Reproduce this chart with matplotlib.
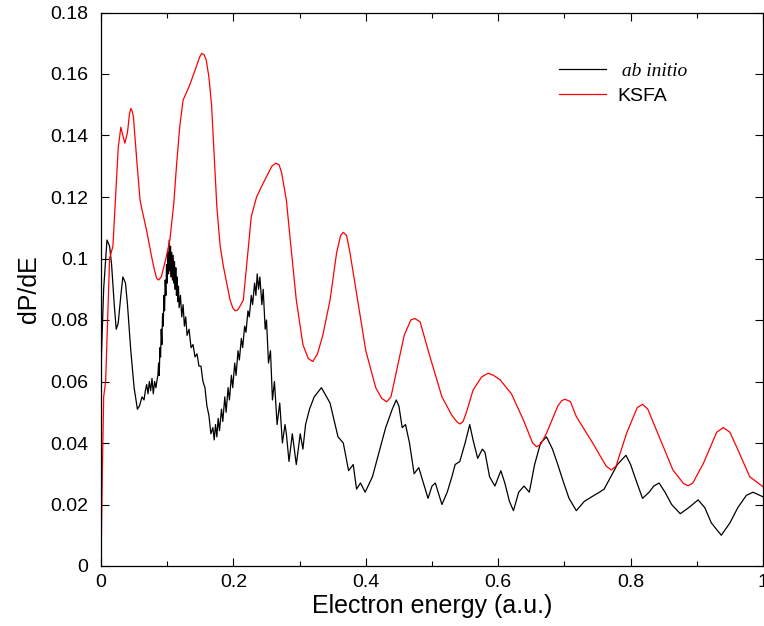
import matplotlib
matplotlib.use('Agg')
import matplotlib.pyplot as plt
from matplotlib.ticker import MultipleLocator, FuncFormatter

# ab initio spectrum (energy in a.u., dP/dE)
e_abinitio = [0.000, 0.004, 0.009, 0.013, 0.016, 0.020, 0.023, 0.026, 0.030, 0.033,
              0.037, 0.040, 0.045, 0.050, 0.055, 0.058, 0.062, 0.065, 0.067, 0.069,
              0.071, 0.073, 0.075, 0.077, 0.079, 0.081, 0.083, 0.085, 0.086, 0.087,
              0.088, 0.089, 0.090, 0.091, 0.092, 0.093, 0.094, 0.095, 0.096, 0.097,
              0.098, 0.099, 0.100, 0.101, 0.102, 0.103, 0.104, 0.105, 0.106, 0.107,
              0.108, 0.109, 0.110, 0.111, 0.112, 0.113, 0.114, 0.115, 0.116, 0.117,
              0.118, 0.120, 0.122, 0.124, 0.126, 0.128, 0.130, 0.133, 0.136, 0.139,
              0.142, 0.145, 0.148, 0.151, 0.154, 0.157, 0.160, 0.163, 0.166, 0.169,
              0.171, 0.173, 0.175, 0.177, 0.179, 0.182, 0.184, 0.187, 0.189, 0.192,
              0.194, 0.197, 0.199, 0.202, 0.204, 0.207, 0.209, 0.212, 0.214, 0.217,
              0.219, 0.222, 0.224, 0.227, 0.229, 0.232, 0.234, 0.236, 0.238, 0.240,
              0.243, 0.245, 0.248, 0.250, 0.253, 0.256, 0.259, 0.262, 0.266, 0.270,
              0.274, 0.278, 0.280, 0.284, 0.289, 0.295, 0.301, 0.305, 0.309, 0.315,
              0.322, 0.333, 0.346, 0.358, 0.366, 0.374, 0.381, 0.386, 0.392, 0.399,
              0.410, 0.420, 0.430, 0.440, 0.446, 0.450, 0.455, 0.460, 0.466, 0.473,
              0.480, 0.487, 0.494, 0.500, 0.505, 0.515, 0.523, 0.530, 0.535, 0.542,
              0.550, 0.557, 0.562, 0.569, 0.576, 0.580, 0.587, 0.595, 0.604, 0.610,
              0.617, 0.623, 0.631, 0.639, 0.647, 0.655, 0.664, 0.673, 0.682, 0.690,
              0.699, 0.707, 0.718, 0.730, 0.745, 0.753, 0.760, 0.770, 0.780, 0.793,
              0.800, 0.808, 0.818, 0.828, 0.835, 0.843, 0.852, 0.862, 0.875, 0.888,
              0.902, 0.912, 0.922, 0.937, 0.950, 0.962, 0.975, 0.985, 0.995, 1.000]
p_abinitio = [0.064, 0.090, 0.106, 0.104, 0.098, 0.085, 0.077, 0.079, 0.088, 0.094,
              0.092, 0.085, 0.070, 0.058, 0.051, 0.052, 0.055, 0.054, 0.057, 0.059,
              0.056, 0.060, 0.057, 0.061, 0.056, 0.060, 0.058, 0.061, 0.062, 0.066,
              0.062, 0.071, 0.068, 0.077, 0.072, 0.082, 0.078, 0.088, 0.083, 0.093,
              0.088, 0.098, 0.092, 0.102, 0.095, 0.106, 0.096, 0.104, 0.094, 0.102,
              0.093, 0.101, 0.092, 0.099, 0.090, 0.097, 0.088, 0.094, 0.086, 0.091,
              0.084, 0.088, 0.081, 0.085, 0.078, 0.081, 0.075, 0.077, 0.071, 0.072,
              0.068, 0.069, 0.065, 0.065, 0.060, 0.058, 0.052, 0.049, 0.043, 0.045,
              0.041, 0.046, 0.042, 0.048, 0.044, 0.051, 0.047, 0.055, 0.050, 0.058,
              0.054, 0.062, 0.058, 0.066, 0.062, 0.070, 0.067, 0.074, 0.071, 0.078,
              0.076, 0.083, 0.081, 0.088, 0.085, 0.092, 0.088, 0.095, 0.090, 0.094,
              0.085, 0.090, 0.077, 0.080, 0.066, 0.070, 0.054, 0.060, 0.046, 0.053,
              0.040, 0.046, 0.043, 0.034, 0.043, 0.033, 0.043, 0.038, 0.046, 0.051,
              0.055, 0.058, 0.053, 0.042, 0.040, 0.031, 0.033, 0.025, 0.027, 0.024,
              0.029, 0.037, 0.045, 0.051, 0.054, 0.052, 0.045, 0.046, 0.040, 0.030,
              0.032, 0.027, 0.022, 0.026, 0.027, 0.020, 0.024, 0.029, 0.033, 0.034,
              0.040, 0.046, 0.041, 0.035, 0.038, 0.037, 0.029, 0.026, 0.031, 0.027,
              0.021, 0.018, 0.024, 0.026, 0.024, 0.033, 0.040, 0.042, 0.038, 0.033,
              0.027, 0.022, 0.018, 0.021, 0.023, 0.024, 0.025, 0.029, 0.033, 0.036,
              0.033, 0.028, 0.022, 0.024, 0.026, 0.027, 0.024, 0.020, 0.017, 0.019,
              0.0215, 0.019, 0.014, 0.010, 0.014, 0.019, 0.023, 0.024, 0.023, 0.0225]

# KSFA spectrum
e_ksfa = [0.000, 0.002, 0.004, 0.007, 0.010, 0.013, 0.018, 0.022, 0.026, 0.030,
          0.033, 0.036, 0.040, 0.043, 0.045, 0.047, 0.049, 0.054, 0.059, 0.062,
          0.069, 0.077, 0.081, 0.084, 0.087, 0.091, 0.097, 0.104, 0.110, 0.114,
          0.119, 0.124, 0.134, 0.144, 0.149, 0.152, 0.156, 0.159, 0.163, 0.167,
          0.175, 0.180, 0.185, 0.195, 0.199, 0.2025, 0.206, 0.210, 0.215, 0.227,
          0.235, 0.245, 0.258, 0.264, 0.269, 0.273, 0.280, 0.285, 0.295, 0.305,
          0.313, 0.320, 0.327, 0.335, 0.346, 0.356, 0.362, 0.366, 0.371, 0.376,
          0.386, 0.400, 0.415, 0.424, 0.4315, 0.438, 0.445, 0.458, 0.468, 0.474,
          0.482, 0.497, 0.515, 0.530, 0.538, 0.542, 0.547, 0.552, 0.562, 0.575,
          0.585, 0.593, 0.603, 0.620, 0.638, 0.652, 0.658, 0.664, 0.673, 0.690,
          0.696, 0.701, 0.709, 0.718, 0.743, 0.763, 0.771, 0.778, 0.794, 0.810,
          0.818, 0.826, 0.839, 0.864, 0.880, 0.887, 0.894, 0.910, 0.930, 0.940,
          0.950, 0.960, 0.980, 1.000]
p_ksfa = [0.000, 0.030, 0.055, 0.060, 0.080, 0.100, 0.104, 0.120, 0.136, 0.1427,
          0.1400, 0.1375, 0.141, 0.1470, 0.1488, 0.1480, 0.146, 0.132, 0.119, 0.1158,
          0.109, 0.100, 0.0960, 0.0936, 0.0930, 0.094, 0.099, 0.106, 0.118, 0.130,
          0.143, 0.1515, 0.1564, 0.1624, 0.1655, 0.1667, 0.1662, 0.1645, 0.1590, 0.150,
          0.1168, 0.104, 0.0973, 0.0865, 0.0840, 0.083, 0.0832, 0.0845, 0.0865, 0.1136,
          0.120, 0.1245, 0.130, 0.131, 0.1305, 0.1277, 0.119, 0.108, 0.0865, 0.072,
          0.0675, 0.0665, 0.0690, 0.075, 0.0865, 0.102, 0.1075, 0.1085, 0.1075, 0.102,
          0.0887, 0.070, 0.058, 0.0545, 0.0534, 0.0550, 0.062, 0.075, 0.0800, 0.0805,
          0.0794, 0.068, 0.055, 0.049, 0.0468, 0.0462, 0.0470, 0.050, 0.0572, 0.0615,
          0.0627, 0.0620, 0.0605, 0.056, 0.0475, 0.0400, 0.0388, 0.0395, 0.0432, 0.0520,
          0.0538, 0.0542, 0.0535, 0.0486, 0.0399, 0.0325, 0.0312, 0.0325, 0.0432, 0.0515,
          0.0526, 0.0510, 0.0442, 0.0312, 0.0268, 0.0261, 0.0270, 0.0334, 0.0435, 0.0450,
          0.0435, 0.0388, 0.0290, 0.0258]

y_ticks = [0, 0.02, 0.04, 0.06, 0.08, 0.1, 0.12, 0.14, 0.16, 0.18]

plt.rcParams['font.family'] = ['Liberation Sans', 'DejaVu Sans']

fig = plt.figure(figsize=(7.64, 6.26), dpi=100)
ax = fig.add_axes([101 / 764, 60 / 626, 662 / 764, 553.5 / 626])

ax.plot(e_abinitio, p_abinitio, color='black', lw=0.9, label=' ab initio')
ax.plot(e_ksfa, p_ksfa, color='red', lw=0.9, label='KSFA')

ax.set_xlim(0, 1)
ax.set_ylim(0, 0.18)
ax.set_yticks(y_ticks)
ax.xaxis.set_major_locator(MultipleLocator(0.2))
ax.xaxis.set_minor_locator(MultipleLocator(0.1))
fmt = FuncFormatter(lambda v, pos: '%g' % round(v, 3))
ax.xaxis.set_major_formatter(fmt)
ax.yaxis.set_major_formatter(fmt)

ax.tick_params(which='both', direction='in', top=True, right=True, labelsize=14)
ax.tick_params(which='major', length=6, width=0.8)
ax.tick_params(which='minor', length=3.5, width=0.8)
ax.tick_params(axis='y', pad=9)
ax.tick_params(axis='x', pad=6)
for s in ax.spines.values():
    s.set_linewidth(0.9)

ax.set_xlabel('Electron energy (a.u.)', fontsize=18, labelpad=2)
ax.set_ylabel('dP/dE', fontsize=18, labelpad=7)

leg = ax.legend(loc='upper left', bbox_to_anchor=(0.692, 0.91), frameon=False,
                fontsize=14, handlelength=2.4, handletextpad=0.6,
                labelspacing=0.36, borderpad=0, borderaxespad=0)
t0 = leg.get_texts()[0]
t0.set_fontfamily('Liberation Serif')
t0.set_fontstyle('italic')
for h in leg.get_lines():
    h.set_linewidth(0.9)

fig.savefig('out.png', dpi=100)
